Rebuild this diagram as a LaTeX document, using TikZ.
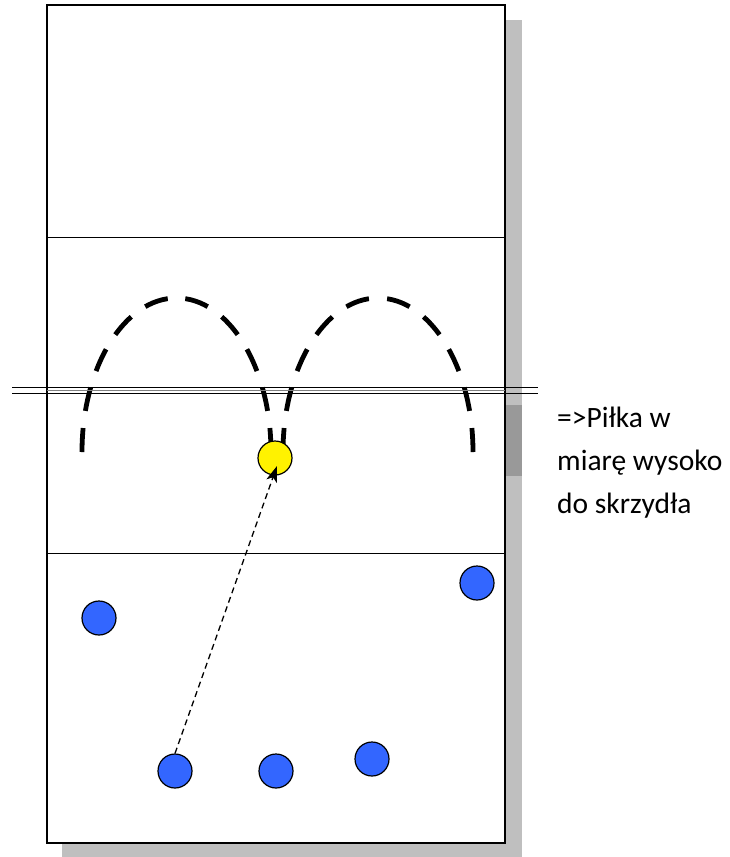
\documentclass[tikz,border=0pt]{standalone}
\usepackage{fontspec}
\setmainfont{Carlito}
\usetikzlibrary{arrows.meta}
\begin{document}
\begin{tikzpicture}[x=1pt,y=-1pt,
  player/.style={circle,draw=black,line width=1.2pt,fill={rgb,255:red,51;green,102;blue,255},minimum size=34pt,inner sep=0pt},
  ball/.style={circle,draw=black,line width=1.2pt,fill=yellow,minimum size=34pt,inner sep=0pt},
  path/.style={line width=4.8pt,dash pattern=on 24pt off 17.3pt},
  pass/.style={line width=1.3pt,dash pattern=on 6pt off 4pt,-{Stealth[length=16pt,width=11pt,inset=4pt]}},
  thinline/.style={line width=0.9pt}]
\useasboundingbox (0,0) rectangle (730,857);
% shadow
\fill[gray!50] (62,20) rectangle (522,857);
\fill[gray!80] (505,405) rectangle (522,476);
% court
\fill[white] (47,5) rectangle (505,843);
\draw[line width=1.6pt] (47,5) rectangle (505,843);
\draw[thinline] (47,237) -- (505,237);
\draw[thinline] (47,553) -- (505,553);
% dashed arcs (each drawn as two quarters from the bottom ends up)
\draw[path] (82,452) arc[start angle=180,end angle=90,x radius=94.5,y radius=-154];
\draw[path] (271,452) arc[start angle=0,end angle=90,x radius=94.5,y radius=-154];
\draw[path] (283,452) arc[start angle=180,end angle=90,x radius=95,y radius=-154];
\draw[path] (473,452) arc[start angle=0,end angle=90,x radius=95,y radius=-154];
% net
\draw[line width=1.3pt] (12,387.5) -- (538,387.5);
\draw[line width=1.3pt] (12,393.5) -- (538,393.5);
\draw[line width=0.6pt,gray] (47,390.5) -- (505,390.5);
% players
\node[ball] (b) at (275,458) {};
\node[player] (p1) at (99,618) {};
\node[player] (p2) at (477,583) {};
\node[player] (p3) at (175,771) {};
\node[player] (p4) at (276,771) {};
\node[player] (p5) at (372,759) {};
\coordinate (tip) at (277,466);
\draw[pass] (p3.north) -- (tip);
% text
\node[anchor=base west,align=left,font=\fontsize{29.5}{43}\selectfont,inner sep=0pt] (t) at (557,513) {=>Piłka w\\miarę wysoko\\do skrzydła};
\end{tikzpicture}
\end{document}
